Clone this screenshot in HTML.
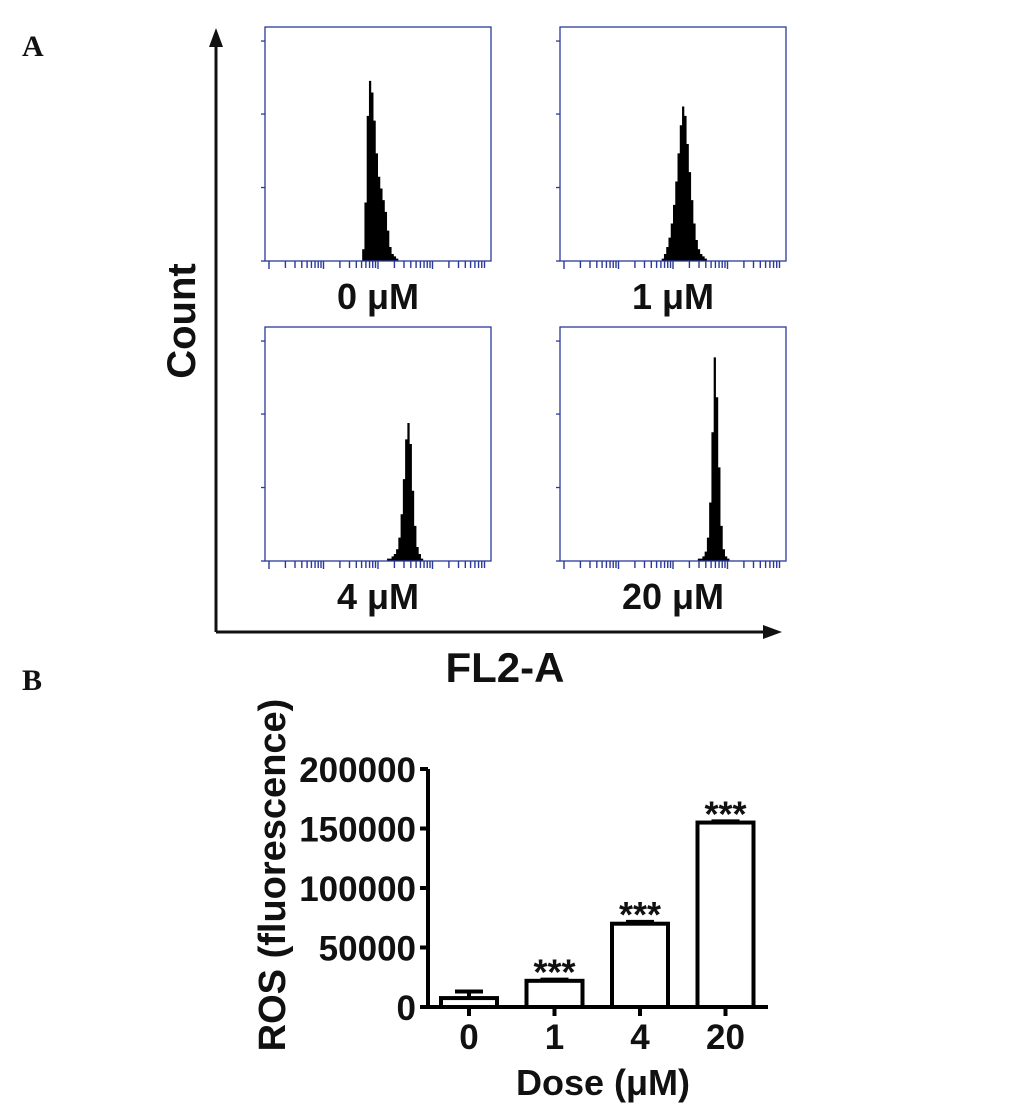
<!DOCTYPE html>
<html><head><meta charset="utf-8"><style>
body{margin:0;background:#fff;}
svg{display:block;}
text{font-family:"Liberation Sans",sans-serif;font-weight:bold;fill:#111;}
</style></head><body>
<svg id="fig" width="1035" height="1110" viewBox="0 0 1035 1110" xmlns="http://www.w3.org/2000/svg">
<text x="22" y="56" style="font-family:'Liberation Serif',serif;font-size:30px">A</text>
<text x="22" y="690" style="font-family:'Liberation Serif',serif;font-size:30px">B</text>
<g stroke="#111" stroke-width="3" fill="#111">
<line x1="216" y1="632" x2="216" y2="45"/><polygon points="216,28 209,47 223,47" stroke="none"/>
<line x1="216" y1="632" x2="765" y2="632"/><polygon points="782,632 763,625 763,639" stroke="none"/>
</g>
<text x="195" y="321" font-size="40" text-anchor="middle" transform="rotate(-90 195 321)">Count</text>
<text x="505" y="682" font-size="42" text-anchor="middle">FL2-A</text>
<g id="hists"></g>
<g id="bars"></g>
</svg>
<script>
// Histogram data (bin counts as % of panel height, 100 bins)
const histLabels = ["0 μM","1 μM","4 μM","20 μM"];
const histStart = [43, 45, 54, 61];
const hist0 = [5,25,62,77,72,60,46,36,31,26,21,13,6,3,2,1];
const hist1 = [1,3,6,10,16,24,34,46,58,66,62,50,38,26,16,9,5,3,2,1];
const hist4 = [1,1,2,3,5,10,20,35,52,59,50,30,15,6,3,1];
const hist20 = [1,1,2,4,10,25,55,87,70,40,15,5,2,1];
const histSeries = [hist0,hist1,hist4,hist20];

// Bar chart data
const doses = ["0","1","4","20"];
const rosMean = [7500,22000,70000,155000];
const rosErr = [5500,1000,1500,1000];
const yTicks = [0,50000,100000,150000,200000];
const sig = ["","***","***","***"];

const NS="http://www.w3.org/2000/svg";
function el(tag,attrs,parent){const e=document.createElementNS(NS,tag);for(const k in attrs)e.setAttribute(k,attrs[k]);parent.appendChild(e);return e;}

const hg=document.getElementById('hists');
const boxes=[[265,27],[560,27],[265,327],[560,327]];
const BW=226,BH=234,NB=100;
histSeries.forEach((s,i)=>{
  const [bx,by]=boxes[i];
  const g=el('g',{},hg);
  
  
  const xs=b=>bx+b/NB*BW;
  const ys=v=>by+BH-v/100*BH;
  let d='M'+xs(histStart[i])+','+(by+BH);
  s.forEach((v,j)=>{d+=' L'+xs(histStart[i]+j)+','+ys(v)+' L'+xs(histStart[i]+j+1)+','+ys(v);});
  d+=' L'+xs(histStart[i]+s.length)+','+(by+BH)+' Z';
  const p=el('path',{d:d,fill:'#000'},g);
  
  
  el('rect',{x:bx,y:by,width:BW,height:BH,fill:'none',stroke:'#2b3a9a','stroke-width':1.3},g);
  [0,0.314,0.628,0.94].forEach(f=>el('line',{x1:bx,x2:bx-4,y1:by+BH-f*BH,y2:by+BH-f*BH,stroke:'#2b3a9a','stroke-width':1.3},g));
  for(let dec=0;dec<4;dec++){for(let m=1;m<=9;m++){
    const x=bx+4+(dec+Math.log10(m))*(BW-8)/4;
    el('line',{x1:x,x2:x,y1:by+BH,y2:by+BH+(m==1?8:7),stroke:'#2b3a9a','stroke-width':1.4},g);}}
  const t=el('text',{x:bx+BW/2,y:by+BH+48,'font-size':36,'text-anchor':'middle'},g);
  t.textContent=histLabels[i];
  
  
});

const bg=document.getElementById('bars');
const X0=428,Y0=1007,YTOP=769,XR=768;
const yS=v=>Y0-v/200000*(Y0-YTOP);
const xC=i=>469+i*85.5;
const ax=el('g',{stroke:'#000','stroke-width':4},bg);


el('line',{x1:X0,y1:YTOP,x2:X0,y2:Y0+2},ax);
el('line',{x1:X0-2,y1:Y0,x2:XR,y2:Y0},ax);
yTicks.forEach(v=>{
  el('line',{x1:X0-8,x2:X0,y1:yS(v),y2:yS(v)},ax);
  const t=el('text',{x:X0-12,y:yS(v)+13,'font-size':35,'text-anchor':'end'},bg);
  t.textContent=v;
  
  
});
doses.forEach((d,i)=>{
  const c=xC(i);
  el('line',{x1:c,x2:c,y1:Y0,y2:Y0+9},ax);
  el('line',{x1:c,x2:c,y1:yS(rosMean[i]),y2:yS(rosMean[i]+rosErr[i]),stroke:'#000','stroke-width':4},bg);
  el('line',{x1:c-14,x2:c+14,y1:yS(rosMean[i]+rosErr[i]),y2:yS(rosMean[i]+rosErr[i]),stroke:'#000','stroke-width':4},bg);
  const r=el('rect',{x:c-28,y:yS(rosMean[i]),width:56,height:Y0-yS(rosMean[i]),fill:'#fff',stroke:'#000','stroke-width':4},bg);
  
  
  const t=el('text',{x:c,y:Y0+42,'font-size':35,'text-anchor':'middle'},bg);
  t.textContent=d;
  
  
  if(sig[i]){const s=el('text',{x:c,y:yS(rosMean[i]+rosErr[i])+5,'font-size':36,'text-anchor':'middle'},bg);
    s.textContent=sig[i];
    
    }
});
const yt=el('text',{x:285,y:875,'font-size':38,'text-anchor':'middle',transform:'rotate(-90 285 875)'},bg);
yt.textContent='ROS (fluorescence)';


const xt=el('text',{x:603,y:1095,'font-size':36,'text-anchor':'middle'},bg);
xt.textContent='Dose (μM)';


</script>
</body></html>
